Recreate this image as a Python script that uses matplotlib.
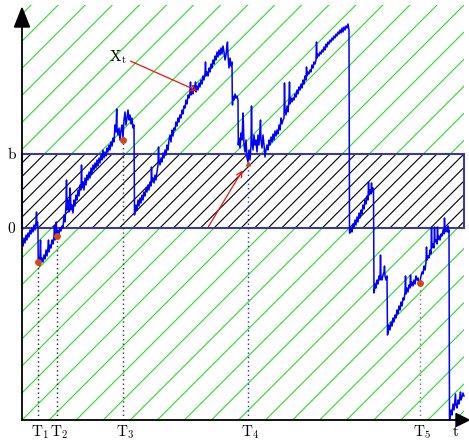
import numpy as np
import matplotlib.pyplot as plt
from matplotlib.patches import Rectangle, Polygon

plt.rcParams['mathtext.fontset'] = 'cm'

# sample path of X_t (time, value); value 0 is the lower barrier
path_t = [0.5, 1, 2, 3, 4, 5, 6, 7, 8, 9, 10, 11, 12, 13, 14, 14.5, 15, 15.5, 16, 16.2,
          16.5, 17, 17.5, 18, 18.5, 19, 20, 21, 22, 23, 24, 25, 26, 26.5, 27, 28, 29, 30, 31, 32,
          32.5, 33, 34, 34.3, 34.7, 35, 36, 37, 38, 39,
          40, 41, 42, 43, 44, 44.5, 45, 46, 47, 48, 48.5, 49, 50, 51, 52, 53, 54, 55, 56, 57, 58,
          59, 59.5, 60, 61, 62, 63, 64, 65, 66, 67, 68, 69, 70, 71, 72, 73, 74, 75, 76, 77, 78,
          79, 80, 81, 82, 83, 84, 85, 86, 87, 88, 89, 90, 91, 92, 93, 94, 94.7, 95, 96, 97, 98,
          99, 100, 101, 102, 103, 104, 105, 106, 107, 108, 109, 110, 111, 112, 112.5,
          113, 114, 115, 116, 117, 118, 119, 120, 121, 122, 123, 124, 125, 126, 127, 128, 129,
          129.5, 130, 131, 132, 133, 134, 135, 136, 136.5, 137, 138, 139, 140, 141, 142, 143,
          144, 145, 146, 147, 148, 149, 150, 151, 152, 153, 154, 155, 156, 157, 158, 159, 160,
          161, 162, 163, 164, 165, 166, 167, 168, 168.5, 169, 170, 171, 172, 173, 173.5, 174,
          175, 176, 177, 178, 179, 180, 181, 182, 183, 183.5, 184, 185, 186, 187, 188, 189, 190,
          191, 192, 193, 194, 195, 196, 197, 198, 199, 200, 201, 202, 203, 204, 205, 205.5, 206,
          207, 208, 209, 210, 210.3,
          210.5, 211, 212, 213, 214, 215, 216, 216.3, 217, 218, 219, 220, 221, 221.5, 222, 223,
          224, 225, 226, 227, 228, 229, 229.5, 230, 231, 232, 233, 234, 235, 236, 237, 238,
          238.5, 239, 240, 241, 242, 243, 244, 245, 246, 247, 248, 249, 250, 251, 252, 253, 254,
          255, 256, 257, 258, 259, 260, 261, 262, 262.5, 263, 264, 265, 266, 267, 267.5, 268,
          269, 270, 271, 272, 273, 274, 275, 276, 277, 278, 279, 280, 281, 282, 283, 284, 284.5,
          285, 286, 287, 288, 289, 290, 291, 292, 293, 294, 294.5, 295, 296, 297, 298, 299, 300,
          301, 302, 303, 304, 305, 306, 307, 308, 309, 310, 311, 312, 313, 314, 315, 316, 317,
          318, 319, 320, 321, 322, 323, 324, 325, 326, 327, 327.5,
          328, 329, 330, 331, 332, 333, 334, 335, 336, 337, 338, 339, 340, 341, 342, 343, 344,
          345, 346, 346.5, 347, 348, 349, 349.5, 350, 351, 351.5, 352,
          352.5, 353, 354, 355, 356, 357, 358, 358.5, 359, 360, 361, 362, 362.5, 363, 364, 365,
          365.5,
          366, 367, 368, 369, 370, 371, 372, 373, 374, 375, 376, 377, 378, 379, 380, 381, 382,
          383, 383.5, 384, 385, 386, 387, 388, 388.5, 389, 390, 391, 392, 393, 394, 395, 396,
          397, 398, 399, 400, 401, 402, 403, 404, 404.5, 405, 406, 407, 408, 409, 409.5, 410,
          411, 412, 412.5, 413, 414, 415, 415.5, 416, 417, 418, 419, 420, 421, 422, 422.5, 423,
          424, 425, 426, 426.5, 427, 427.5,
          428, 429, 430, 431, 432, 433, 433.5, 434, 435, 436, 437, 438, 438.5, 439, 440, 441, 442]
path_x = [-14, -18, -10, -15, -7, -12, -5, -9, -2, -6, 0, -4, 3, -2, 6, 16, 2, 6, 0, -36,
          -34, -30, -38, -27, -12, -34, -30, -34, -27, -31, -22, -28, -19, -12, -24, -17, -20,
          -12, -16, -8, 2, -12, -4, 6, -10, -8, -2, -6, 0, -3,
          2, 0, 13, 6, 23, 48, 18, 28, 16, 40, 33, 18, 23, 15, 28, 22, 33, 28, 38, 32, 43, 38,
          63, 40, 46, 38, 50, 43, 53, 48, 56, 50, 60, 54, 63, 58, 65, 60, 68, 62, 70, 65, 73, 68,
          78, 70, 76, 72, 80, 76, 83, 78, 86, 82, 90, 86, 103, 96, 119, 100, 93, 100, 88, 98,
          103, 90, 108, 116, 103, 110, 118, 108, 113, 104, 110, 100, 103, 13,
          16, 23, 18, 28, 22, 30, 25, 33, 28, 36, 32, 40, 36, 43, 38, 46, 42, 61, 46, 50, 45,
          53, 48, 56, 63, 81, 68, 63, 70, 66, 75, 70, 78, 73, 83, 78, 88, 93, 86, 98, 92, 100,
          98, 106, 102, 110, 106, 113, 110, 118, 114, 122, 120, 128, 124, 133, 130, 136, 146,
          133, 138, 134, 142, 138, 146, 136, 142, 138, 145, 141, 148, 144, 152, 148, 154, 166,
          152, 156, 152, 160, 156, 164, 160, 168, 164, 172, 168, 176, 171, 178, 173, 180, 174,
          182, 176, 168, 173, 183, 186, 173, 160, 170, 162, 166, 128,
          123, 132, 128, 134, 130, 132, 128, 83, 90, 80, 95, 88, 115, 103, 83, 76, 88, 70, 66,
          78, 68, 83, 122, 88, 78, 93, 83, 88, 76, 93, 83, 98, 108, 88, 80, 93, 83, 71, 78, 83,
          78, 88, 83, 91, 86, 94, 88, 97, 92, 98, 94, 103, 98, 110, 104, 108, 110, 145, 118, 113,
          122, 116, 128, 146, 124, 130, 126, 130, 128, 134, 131, 138, 134, 141, 138, 144, 140,
          148, 144, 152, 148, 161, 152, 156, 154, 158, 156, 163, 160, 166, 164, 168, 186, 170,
          174, 172, 176, 174, 178, 176, 181, 178, 184, 181, 186, 184, 188, 186, 190, 188, 192,
          190, 194, 192, 196, 194, 198, 195, 200, 196, 201, 198, 202, 200, 204, 198, -5,
          -5, 0, -4, 4, 0, 8, 3, 11, 6, 15, 10, 18, 14, 23, 19, 28, 24, 32, 28, 46, 33, 38, 34,
          45, 36, 40, 38, -65,
          -62, -56, -60, -52, -56, -48, -52, -27, -50, -52, -47, -44, -38, -48, -52, -48, -107,
          -105, -97, -102, -94, -98, -90, -94, -87, -90, -82, -86, -78, -82, -74, -78, -70, -72,
          -64, -48, -66, -60, -64, -57, -60, -47, -58, -54, -58, -52, -56, -48, -52, -50, -56,
          -54, -48, -44, -46, -38, -42, -34, -19, -32, -28, -30, -22, -26, 1, -20, -16, -20, 1,
          -14, -12, -16, 1, -12, -8, -12, -6, -8, -2, -6, 10, -4, 0, -4, 2, -4, -2, -192,
          -190, -182, -187, -176, -182, -172, -166, -177, -180, -172, -176, -168, -164, -172,
          -169, -165, -168]

# barrier levels and stopping times
b = 74
x_floor = -192
T_times = [16, 35, 101, 226, 398]
T_values = [-34, -8, 88, 65, -55]
T_names = ['T_1', 'T_2', 'T_3', 'T_4', 'T_5']
T_line_colors = ['#222222', '#222222', '#333333', '#2222ee', '#777777']
t_end = 442
x_top = 223

green_step = 27.06
hatch_step = green_step / 2

fig = plt.figure(figsize=(4.69, 4.40), dpi=100)
ax = fig.add_axes([0, 0, 1, 1])
ax.set_xlim(-22, 447)
ax.set_ylim(-212, 228)
ax.axis('off')

# green diagonal lines over the whole region
clip_all = Rectangle((0, x_floor), t_end, x_top - x_floor, transform=ax.transData)
tt = np.array([0, t_end])
for k in range(-16, 18):
    c = x_floor - green_step * k
    ln, = ax.plot(tt, tt + c, color='#2ed82e', lw=0.8, zorder=1)
    ln.set_clip_path(clip_all)

# band [0, b] with black hatching
band = Rectangle((0, 0), t_end, b, facecolor='white', edgecolor='none', zorder=2)
ax.add_patch(band)
for j in range(-22, 22):
    c = x_floor - hatch_step * j
    ln, = ax.plot(tt, tt + c, color='black', lw=0.8, zorder=3)
    ln.set_clip_path(band)
ax.add_patch(Rectangle((0, 0), t_end, b, facecolor='none', edgecolor='#3b3b94',
                       lw=1.5, zorder=4))

# process path
ax.plot(path_t, path_x, color='#0000ff', lw=1.1, zorder=5)

# stopping times: dotted drops and markers
for t, v, col in zip(T_times, T_values, T_line_colors):
    ax.plot([t, t], [x_floor, v], color=col, lw=1.0, ls=(0, (1, 2.2)), zorder=4)
for i, (t, v) in enumerate(zip(T_times, T_values)):
    mk = '^' if i == 3 else 'o'
    ax.plot(t, v, marker=mk, color='#d24a1a', ms=5, mec='none', zorder=6)
    ax.text(t + 2, -204, r'$\mathrm{%s}$' % T_names[i], ha='center', va='center',
            fontsize=11)

# axes with arrow heads
ax.plot([0, 0], [x_floor, 202], color='black', lw=1.3, zorder=7)
ax.plot([0, 435], [x_floor, x_floor], color='black', lw=1.3, zorder=7)
ax.add_patch(Polygon([[-7.5, 201], [7.5, 201], [0, 220]], closed=True,
                     color='black', zorder=8))
ax.add_patch(Polygon([[434, x_floor + 6.5], [434, x_floor - 6.5], [447, x_floor]],
                     closed=True, color='black', zorder=8))

ax.text(-10, b, r'$\mathrm{b}$', ha='center', va='center', fontsize=11)
ax.text(-10, 0, r'$0$', ha='center', va='center', fontsize=11)
ax.text(434, -204, r'$\mathrm{t}$', ha='center', va='center', fontsize=11)
ax.text(96, 171, r'$\mathrm{X}_\mathrm{t}$', ha='center', va='center', fontsize=11)

# pointers
ax.annotate('', xy=(178, 136), xytext=(106, 168),
            arrowprops=dict(arrowstyle='->', color='#ee1111', lw=0.9), zorder=9)
ax.annotate('', xy=(222, 60), xytext=(185, -1),
            arrowprops=dict(arrowstyle='->', color='#ee1111', lw=0.9), zorder=9)

fig.savefig('out.png', dpi=100)
